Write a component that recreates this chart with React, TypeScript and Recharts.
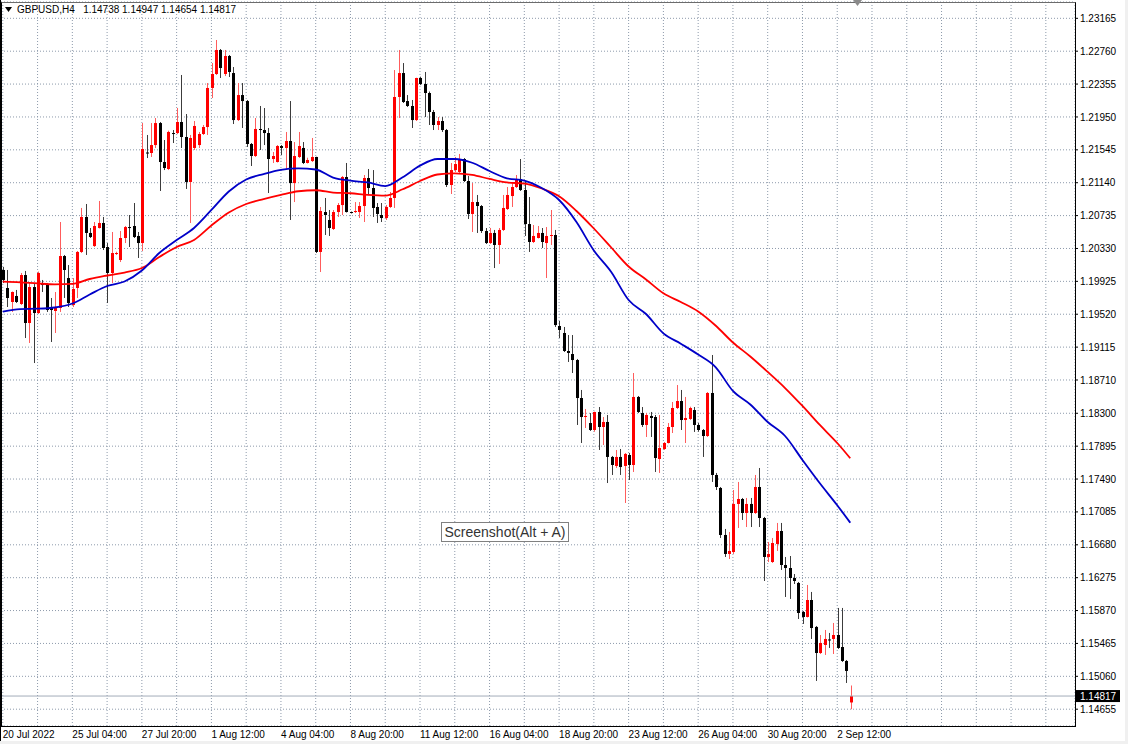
import { ComposedChart, Bar, Line, XAxis, YAxis, CartesianGrid, ReferenceLine } from "recharts";

const FONT = '"Liberation Sans", Arial, sans-serif';

// GBPUSD H4 candles, bar index 0..195
const opens = [
  1.20065, 1.19843, 1.19671, 1.19745, 1.19646, 1.20003, 1.19412, 1.19855, 1.19535, 1.19892,
  1.19892, 1.19597, 1.1956, 1.19597, 1.20237, 1.19966, 1.19634, 1.19843, 1.20287, 1.20718,
  1.20521, 1.2036, 1.20582, 1.20644, 1.20348, 1.20028, 1.20262, 1.20188, 1.20459, 1.20594,
  1.20607, 1.20484, 1.20397, 1.21512, 1.21506, 1.21604, 1.21875, 1.21395, 1.21309, 1.21752,
  1.21752, 1.21888, 1.21703, 1.21149, 1.21568, 1.21604, 1.2174, 1.21826, 1.22307, 1.22479,
  1.22775, 1.22479, 1.22701, 1.22491, 1.21912, 1.2222, 1.22146, 1.21617, 1.21469, 1.21802,
  1.21789, 1.21752, 1.21432, 1.21395, 1.21592, 1.21568, 1.21654, 1.21136, 1.21457, 1.21568,
  1.21383, 1.21407, 1.21457, 1.20287, 1.20779, 1.20681, 1.2057, 1.20779, 1.20865, 1.2121,
  1.20779, 1.20779, 1.20779, 1.20853, 1.21198, 1.21075, 1.20841, 1.20742, 1.20705, 1.20841,
  1.20952, 1.22196, 1.22491, 1.22146, 1.22085, 1.21912, 1.2243, 1.22356, 1.22245, 1.22011,
  1.21851, 1.219, 1.21789, 1.21112, 1.21296, 1.21272, 1.21432, 1.21161, 1.20755, 1.20902,
  1.20853, 1.20545, 1.20397, 1.20521, 1.20373, 1.20558, 1.20816, 1.20976, 1.21087, 1.21186,
  1.2105, 1.20631, 1.2041, 1.20459, 1.20521, 1.20397, 1.20484, 1.20496, 1.19375, 1.19289,
  1.19067, 1.1903, 1.18956, 1.18488, 1.18254, 1.1818, 1.18094, 1.18316, 1.18131, 1.18193,
  1.17762, 1.17651, 1.17762, 1.17651, 1.17786, 1.17663, 1.18501, 1.18303, 1.18156, 1.18267,
  1.18254, 1.17737, 1.1786, 1.17934, 1.18131, 1.18365, 1.18451, 1.18217, 1.1823, 1.1834,
  1.18156, 1.18094, 1.1802, 1.1855, 1.1754, 1.1738, 1.16801, 1.16567, 1.16591, 1.17183,
  1.17244, 1.17072, 1.17183, 1.17072, 1.17392, 1.1701, 1.1653, 1.16468, 1.1669, 1.1685,
  1.16431, 1.16394, 1.16271, 1.1621, 1.15852, 1.15791, 1.16, 1.15668, 1.15347, 1.15446,
  1.15514, 1.1552, 1.15569, 1.15421, 1.15249, 1.14738,
];

const highs = [
  1.20102, 1.20065, 1.198, 1.19819, 1.20028, 1.20053, 1.19917, 1.19892, 1.20046, 1.19942,
  1.19905, 1.1972, 1.19794, 1.20656, 1.2025, 1.20126, 1.19966, 1.20299, 1.20829, 1.20878,
  1.20582, 1.20656, 1.20915, 1.20718, 1.20397, 1.20533, 1.2029, 1.20545, 1.20607, 1.20742,
  1.2089, 1.20533, 1.21875, 1.21728, 1.21875, 1.21937, 1.21888, 1.21666, 1.21781, 1.21789,
  1.2206, 1.22467, 1.21986, 1.21728, 1.219, 1.21765, 1.21851, 1.22368, 1.22614, 1.22898,
  1.22787, 1.22775, 1.22713, 1.22565, 1.22368, 1.22368, 1.22159, 1.21629, 1.21937, 1.22085,
  1.2206, 1.21814, 1.21518, 1.21604, 1.21604, 1.21765, 1.22146, 1.21641, 1.21765, 1.21641,
  1.21448, 1.21691, 1.2146, 1.20841, 1.20952, 1.20804, 1.20804, 1.2089, 1.21223, 1.21383,
  1.20785, 1.20902, 1.20902, 1.21235, 1.21309, 1.21296, 1.2089, 1.2089, 1.20865, 1.21026,
  1.22528, 1.22775, 1.22614, 1.2222, 1.22159, 1.22433, 1.22446, 1.22504, 1.22263, 1.22036,
  1.21949, 1.21949, 1.21802, 1.21383, 1.21457, 1.21494, 1.21444, 1.21223, 1.21136, 1.20989,
  1.20865, 1.20582, 1.20582, 1.20558, 1.20582, 1.20989, 1.21087, 1.21149, 1.21235, 1.21432,
  1.21161, 1.20964, 1.20619, 1.20607, 1.20582, 1.20594, 1.20804, 1.20558, 1.19437, 1.19363,
  1.19264, 1.19264, 1.18969, 1.18587, 1.18353, 1.18303, 1.1832, 1.18377, 1.18254, 1.18279,
  1.17774, 1.17848, 1.1786, 1.17811, 1.17811, 1.18796, 1.18513, 1.18377, 1.18303, 1.18316,
  1.18279, 1.18279, 1.17946, 1.1818, 1.18439, 1.18648, 1.18587, 1.18501, 1.18381, 1.18377,
  1.1818, 1.18106, 1.18562, 1.19018, 1.17565, 1.17392, 1.16875, 1.16838, 1.17355, 1.17454,
  1.17257, 1.17257, 1.17257, 1.1754, 1.17626, 1.17023, 1.16715, 1.16764, 1.16949, 1.16949,
  1.1653, 1.16542, 1.1632, 1.16222, 1.15865, 1.16185, 1.16099, 1.1568, 1.15569, 1.15631,
  1.15594, 1.15717, 1.15902, 1.15902, 1.15261, 1.14947,
];

const lows = [
  1.19905, 1.19609, 1.19548, 1.19658, 1.19634, 1.19227, 1.19166, 1.18919, 1.19523, 1.19794,
  1.19548, 1.19178, 1.19289, 1.19548, 1.1972, 1.19609, 1.19609, 1.1972, 1.20274, 1.2025,
  1.20459, 1.20348, 1.20576, 1.20311, 1.19658, 1.19905, 1.2025, 1.20163, 1.20397, 1.20348,
  1.20459, 1.20213, 1.20299, 1.21444, 1.21457, 1.21568, 1.21038, 1.21296, 1.21296, 1.21629,
  1.2174, 1.21568, 1.21063, 1.20644, 1.21543, 1.21568, 1.21728, 1.21728, 1.22183, 1.22467,
  1.2243, 1.22454, 1.22442, 1.21863, 1.219, 1.21814, 1.2158, 1.21346, 1.21457, 1.21543,
  1.21604, 1.21013, 1.21383, 1.21389, 1.21481, 1.21309, 1.20681, 1.20902, 1.21444, 1.2137,
  1.21377, 1.21395, 1.20274, 1.2004, 1.20496, 1.20484, 1.20558, 1.20718, 1.20742, 1.20773,
  1.20761, 1.20767, 1.20705, 1.20656, 1.20989, 1.20718, 1.20644, 1.20656, 1.20681, 1.20829,
  1.20829, 1.21937, 1.22122, 1.22073, 1.21814, 1.219, 1.22343, 1.21949, 1.21851, 1.21789,
  1.21789, 1.21765, 1.21087, 1.21001, 1.21272, 1.21247, 1.21149, 1.20693, 1.20533, 1.20521,
  1.20521, 1.20385, 1.20385, 1.20089, 1.20139, 1.20545, 1.20804, 1.20841, 1.21075, 1.21038,
  1.20484, 1.20287, 1.20397, 1.20453, 1.20336, 1.19966, 1.20373, 1.19363, 1.19227, 1.19055,
  1.18932, 1.18796, 1.18156, 1.17934, 1.18119, 1.18082, 1.18073, 1.17848, 1.17909, 1.17441,
  1.1754, 1.17626, 1.1754, 1.17195, 1.17478, 1.17577, 1.18303, 1.18131, 1.18008, 1.18008,
  1.17577, 1.17565, 1.17848, 1.17928, 1.18057, 1.18353, 1.18094, 1.17934, 1.18217, 1.1807,
  1.18073, 1.17762, 1.18008, 1.17454, 1.17355, 1.16764, 1.1653, 1.16505, 1.16567, 1.16887,
  1.16986, 1.16899, 1.16899, 1.1706, 1.16899, 1.16234, 1.16468, 1.16456, 1.16604, 1.1637,
  1.16037, 1.16013, 1.16197, 1.15766, 1.15705, 1.15785, 1.1552, 1.15003, 1.15335, 1.15323,
  1.15409, 1.15335, 1.15397, 1.15237, 1.14978, 1.14654,
];

const closes = [
  1.19942, 1.1972, 1.19794, 1.19671, 1.20003, 1.19412, 1.19855, 1.19535, 1.20028, 1.1988,
  1.19572, 1.19572, 1.19597, 1.20237, 1.20065, 1.19658, 1.19831, 1.20287, 1.20718, 1.20521,
  1.20471, 1.20607, 1.20644, 1.20336, 1.20028, 1.20274, 1.20274, 1.20459, 1.20594, 1.20582,
  1.20471, 1.20397, 1.21555, 1.215, 1.21604, 1.21875, 1.21395, 1.21321, 1.21765, 1.2174,
  1.21888, 1.21703, 1.21149, 1.21691, 1.21839, 1.2174, 1.21826, 1.22307, 1.22479, 1.22775,
  1.22553, 1.22701, 1.22504, 1.21912, 1.2222, 1.22146, 1.21617, 1.21469, 1.21802, 1.21789,
  1.21752, 1.21432, 1.21469, 1.21592, 1.21568, 1.21654, 1.21136, 1.21469, 1.21592, 1.21383,
  1.2142, 1.21457, 1.20287, 1.20792, 1.20742, 1.20582, 1.20779, 1.20865, 1.2121, 1.20779,
  1.20767, 1.20792, 1.20853, 1.21198, 1.21075, 1.20829, 1.20755, 1.20705, 1.20841, 1.20952,
  1.22196, 1.22491, 1.22134, 1.22085, 1.21912, 1.2243, 1.22356, 1.22245, 1.22011, 1.21851,
  1.219, 1.21789, 1.21112, 1.21296, 1.2137, 1.21432, 1.21161, 1.20755, 1.20902, 1.20853,
  1.20545, 1.20397, 1.20521, 1.20373, 1.20558, 1.20829, 1.20989, 1.21087, 1.21186, 1.2105,
  1.20631, 1.2041, 1.20484, 1.20521, 1.2041, 1.20484, 1.20496, 1.19387, 1.19326, 1.19067,
  1.19043, 1.18956, 1.18488, 1.18254, 1.18267, 1.18094, 1.18316, 1.18131, 1.18193, 1.17762,
  1.17663, 1.17762, 1.17638, 1.17799, 1.17663, 1.18501, 1.18316, 1.18156, 1.18279, 1.18242,
  1.17749, 1.17872, 1.17934, 1.18131, 1.18365, 1.18451, 1.18217, 1.18242, 1.18365, 1.18156,
  1.18094, 1.1802, 1.1855, 1.1754, 1.17392, 1.16801, 1.16567, 1.16604, 1.17183, 1.17244,
  1.17072, 1.17183, 1.17072, 1.17392, 1.1701, 1.1653, 1.16567, 1.16702, 1.1685, 1.16431,
  1.16394, 1.16271, 1.16234, 1.1584, 1.15791, 1.16, 1.15655, 1.15347, 1.15471, 1.1552,
  1.15508, 1.15569, 1.15409, 1.15249, 1.15126, 1.14817,
];

// moving averages read at every 4th bar
const maIdx = [
  0, 4, 8, 12, 16, 20, 24, 28, 32, 36, 40, 44, 48, 52, 56, 60, 64, 68, 72, 76,
  80, 84, 88, 92, 96, 100, 104, 108, 112, 116, 120, 124, 128, 132, 136, 140, 144, 148, 152, 156,
  160, 164, 168, 172, 176, 180, 184, 188, 192, 195,
];
const fastMa = [
  1.19551, 1.19584, 1.19588, 1.19603, 1.19652, 1.19763, 1.19868, 1.19923, 1.20059, 1.20274,
  1.20434, 1.20582, 1.20804, 1.21032, 1.2118, 1.21247, 1.21299, 1.21316, 1.21303, 1.21204,
  1.21165, 1.21143, 1.21099, 1.21207, 1.2135, 1.21432, 1.21432, 1.21386, 1.21284, 1.21194,
  1.21167, 1.21075, 1.20927, 1.20656, 1.20305, 1.2004, 1.19695, 1.19523, 1.19285, 1.19157,
  1.19024, 1.1887, 1.18575, 1.18408, 1.18193, 1.1802, 1.17725, 1.17438, 1.17167, 1.16952,
];
const slowMa = [
  1.19921, 1.19913, 1.19899, 1.19889, 1.19895, 1.19954, 1.19997, 1.20034, 1.20089, 1.20225,
  1.20348, 1.20434, 1.20613, 1.20773, 1.20878, 1.20939, 1.20991, 1.21035, 1.21047, 1.21019,
  1.2101, 1.20991, 1.20982, 1.21059, 1.21161, 1.21241, 1.21256, 1.21237, 1.21186, 1.21143,
  1.2113, 1.21069, 1.20973, 1.20792, 1.20576, 1.20342, 1.20108, 1.19948, 1.19778, 1.19671,
  1.19554, 1.19381, 1.19172, 1.18999, 1.18809, 1.18611, 1.1839, 1.18156, 1.17934, 1.17746,
];

const timeTicks = [
  0, 8, 16, 24, 32, 40, 48, 56, 64, 72, 80, 88, 96, 104, 112, 120, 128, 136, 144, 152,
  160, 168, 176, 184, 192, 200, 208, 216, 224, 232, 240,
];
const timeLabels: Record<number, string> = {
  0: "20 Jul 2022",
  16: "25 Jul 04:00",
  32: "27 Jul 20:00",
  48: "1 Aug 12:00",
  64: "4 Aug 04:00",
  80: "8 Aug 20:00",
  96: "11 Aug 12:00",
  112: "16 Aug 04:00",
  128: "18 Aug 20:00",
  144: "23 Aug 12:00",
  160: "26 Aug 04:00",
  176: "30 Aug 20:00",
  192: "2 Sep 12:00",
};

const priceTicks = [
  1.23165, 1.2276, 1.22355, 1.2195, 1.21545, 1.2114, 1.20735, 1.2033, 1.19925, 1.1952,
  1.19115, 1.1871, 1.183, 1.17895, 1.1749, 1.17085, 1.1668, 1.16275, 1.1587, 1.15465,
  1.1506, 1.14655,
];

const lastPrice = 1.14817;

const rows = opens.map((o, i) => {
  const k = maIdx.indexOf(i);
  return {
    i,
    open: o,
    high: highs[i],
    low: lows[i],
    close: closes[i],
    range: [lows[i], highs[i]],
    fast: k >= 0 ? fastMa[k] : null,
    slow: k >= 0 ? slowMa[k] : null,
  };
});

function Candle(props: any) {
  const { x, y, width, height, payload } = props;
  if (!payload || x == null) return <g />;
  const { open, close, high, low } = payload;
  const top = Math.min(y, y + height);
  const h = Math.abs(height);
  const ppu = high > low ? h / (high - low) : 0;
  const cx = Math.round(x + width / 2) + 0.5;
  const bTop = top + (high - Math.max(open, close)) * ppu;
  const bBot = top + (high - Math.min(open, close)) * ppu;
  const up = close >= open;
  const color = up ? "#ff0000" : "#000000";
  return (
    <g>
      <line x1={cx} y1={top} x2={cx} y2={top + h} stroke={up ? "#ff5c5c" : "#3c3c3c"} strokeWidth={1} />
      <rect x={cx - 1.5} y={bTop} width={3} height={Math.max(1, bBot - bTop)} fill={color} />
    </g>
  );
}

function TimeTick(props: any) {
  const { x, y, payload } = props;
  const label = timeLabels[payload.value];
  if (!label) return <g />;
  return (
    <text x={x} y={y + 12} fontSize={10} fontFamily={FONT} fill="#000">
      {label}
    </text>
  );
}

function PriceTag(props: any) {
  const { viewBox } = props;
  if (!viewBox) return <g />;
  const right = viewBox.x + viewBox.width;
  return (
    <g>
      <rect x={right + 1} y={viewBox.y - 6} width={44} height={12} fill="#000" />
      <text x={right + 5} y={viewBox.y + 4} fontSize={10} fontFamily={FONT} fill="#fff">
        {lastPrice.toFixed(5)}
      </text>
    </g>
  );
}

export default function App() {
  return (
    <div
      style={{
        position: "absolute",
        left: 0,
        top: 0,
        width: 1128,
        height: 744,
        background: "#fff",
        overflow: "hidden",
      }}
    >
      <ComposedChart width={1128} height={744} data={rows} margin={{ top: 2, right: 0, bottom: 0, left: 1 }}>
        <CartesianGrid stroke="#8d9aab" strokeDasharray="1 2" />
        <XAxis
          type="number"
          dataKey="i"
          domain={[-0.414, 246.71]}
          ticks={timeTicks}
          interval={0}
          allowDataOverflow
          height={18}
          tickSize={0}
          tickMargin={0}
          axisLine={false}
          tickLine={false}
          tick={<TimeTick />}
        />
        <YAxis
          orientation="right"
          type="number"
          domain={[1.14448, 1.23366]}
          ticks={priceTicks}
          interval={0}
          allowDataOverflow
          width={53}
          axisLine={false}
          tickSize={3}
          tickMargin={2}
          tickLine={{ stroke: "#000" }}
          tickFormatter={(v: number) => v.toFixed(5)}
          tick={{ fontSize: 10, fontFamily: FONT, fill: "#000" }}
        />
        <ReferenceLine y={lastPrice} stroke="#a4acb9" strokeWidth={1} label={<PriceTag />} />
        <Bar dataKey="range" barSize={3} shape={<Candle />} isAnimationActive={false} />
        <Line
          type="monotone"
          dataKey="slow"
          stroke="#ff0000"
          strokeWidth={1.8}
          dot={false}
          connectNulls
          isAnimationActive={false}
        />
        <Line
          type="monotone"
          dataKey="fast"
          stroke="#0000c8"
          strokeWidth={1.8}
          dot={false}
          connectNulls
          isAnimationActive={false}
        />
      </ComposedChart>

      {/* plot frame */}
      <div
        style={{
          position: "absolute",
          left: 1,
          top: 2,
          width: 1075,
          height: 725,
          boxSizing: "border-box",
          border: "1px solid #000",
          borderTopColor: "#6c6c6c",
          pointerEvents: "none",
        }}
      />
      <div style={{ position: "absolute", left: 0, top: 0, width: 1, height: 744, background: "#000" }} />
      <div style={{ position: "absolute", right: 0, top: 0, width: 3, height: 744, background: "#f0f0f0" }} />
      <div style={{ position: "absolute", left: 0, bottom: 0, width: 1128, height: 3, background: "#f0f0f0" }} />

      {/* header */}
      <div
        style={{
          position: "absolute",
          left: 5,
          top: 4,
          display: "flex",
          alignItems: "center",
          fontFamily: FONT,
          fontSize: 10,
          color: "#000",
          whiteSpace: "pre",
          lineHeight: "12px",
        }}
      >
        <svg width={8} height={6} style={{ marginRight: 4 }}>
          <polygon points="0,0 7,0 3.5,5" fill="#000" />
        </svg>
        <span>{"GBPUSD,H4   1.14738 1.14947 1.14654 1.14817"}</span>
      </div>

      {/* shift marker */}
      <svg width={10} height={7} style={{ position: "absolute", left: 853, top: 0 }}>
        <polygon points="0,0 9,0 4.5,6" fill="#8a8a8a" />
      </svg>

      {/* screenshot hint */}
      <div
        style={{
          position: "absolute",
          left: 441,
          top: 522,
          width: 128,
          height: 20,
          boxSizing: "border-box",
          border: "1px solid #808080",
          background: "#fff",
          fontFamily: FONT,
          fontSize: 14,
          color: "#333",
          lineHeight: "18px",
          textAlign: "center",
          whiteSpace: "nowrap",
        }}
      >
        Screenshot(Alt + A)
      </div>
    </div>
  );
}
